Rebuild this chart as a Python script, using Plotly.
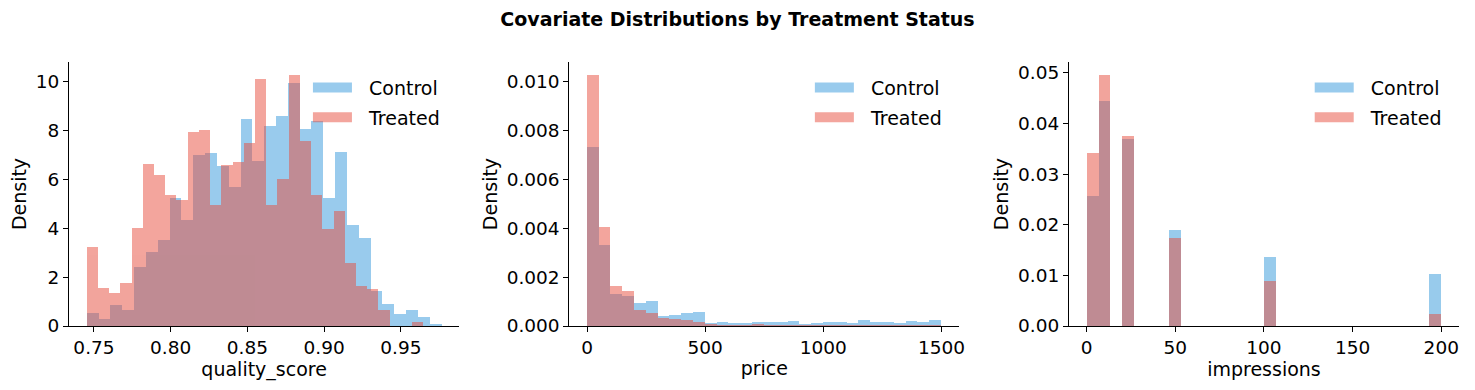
import plotly.graph_objects as go

# ---------------- data ----------------
series_names = ["Control", "Treated"]
series_colors = ["#3498db", "#e74c3c"]

# quality_score histogram (density), 30 bins each
qs_ctrl_range = (0.7453, 0.9765)
qs_trt_range = (0.7453, 0.9646)
qs_ctrl_density = [0.53, 0.29, 0.86, 0.66, 2.42, 3.04, 3.53, 5.25, 4.35, 7.02,
                   7.10, 6.57, 5.70, 8.50, 6.77, 8.21, 8.62, 9.97, 8.08, 8.41,
                   5.25, 7.14, 4.14, 3.61, 1.45, 0.90, 0.49, 0.66, 0.37, 0.08]
qs_trt_density = [3.24, 1.56, 1.35, 1.76, 4.02, 6.65, 6.20, 5.38, 5.17, 7.96,
                  8.04, 4.97, 6.60, 6.73, 7.51, 10.10, 4.97, 6.03, 10.30, 7.59,
                  5.38, 3.98, 4.72, 2.59, 1.64, 1.52, 0.66, 0.00, 0.00, 0.16]

# price histogram (density), 30 bins each
price_ctrl_range = (0, 1500)
price_trt_range = (0, 1500)
price_ctrl_density = [0.00735, 0.00332, 0.00131, 0.00123, 0.00094, 0.00103, 0.00041, 0.00045, 0.00053, 0.00057,
                      0.00012, 0.00016, 0.00012, 0.00012, 0.00016, 0.00016, 0.00016, 0.00020, 0.00008, 0.00012,
                      0.00016, 0.00016, 0.00012, 0.00025, 0.00016, 0.00016, 0.00012, 0.00020, 0.00016, 0.00025]
price_trt_density = [0.01030, 0.00406, 0.00164, 0.00144, 0.00066, 0.00053, 0.00033, 0.00029, 0.00025, 0.00016,
                     0.00005, 0.00003, 0.00003, 0.00004, 0.00008, 0.00004, 0.00004, 0.00004, 0.00003, 0.00003,
                     0.00004, 0.00004, 0.00003, 0.00004, 0.00004, 0.00003, 0.00004, 0.00004, 0.00003, 0.00004]

# impressions histogram (density), 30 bins each
imp_ctrl_range = (0, 200)
imp_trt_range = (0, 200)
imp_ctrl_density = [0.02573, 0.04453, 0, 0.03701, 0, 0, 0, 0.01900, 0, 0,
                    0, 0, 0, 0, 0, 0.01365, 0, 0, 0, 0,
                    0, 0, 0, 0, 0, 0, 0, 0, 0, 0.01029]
imp_trt_density = [0.03424, 0.04967, 0, 0.03760, 0, 0, 0, 0.01741, 0, 0,
                   0, 0, 0, 0, 0, 0.00890, 0, 0, 0, 0,
                   0, 0, 0, 0, 0, 0, 0, 0, 0, 0.00237]

x_labels = ["quality_score", "price", "impressions"]
y_label = "Density"
title_text = "Covariate Distributions by Treatment Status"

x_tickvals = [[0.75, 0.80, 0.85, 0.90, 0.95], [0, 500, 1000, 1500], [0, 50, 100, 150, 200]]
y_tickvals = [[0, 2, 4, 6, 8, 10],
              [0, 0.002, 0.004, 0.006, 0.008, 0.010],
              [0, 0.01, 0.02, 0.03, 0.04, 0.05]]
x_fmt = [".2f", "d", "d"]
y_fmt = ["d", ".3f", ".2f"]

panels = [
    (qs_ctrl_range, qs_ctrl_density, qs_trt_range, qs_trt_density),
    (price_ctrl_range, price_ctrl_density, price_trt_range, price_trt_density),
    (imp_ctrl_range, imp_ctrl_density, imp_trt_range, imp_trt_density),
]

# ---------------- figure ----------------
FONT = "DejaVu Sans"
NBSP = "\u00a0"
fig = go.Figure()

x_domains = [[0.0, 0.2808], [0.3600, 0.6404], [0.7194, 1.0]]
legend_x = [0.1719, 0.5330, 0.8926]


def bins(rng, n):
    w = (rng[1] - rng[0]) / n
    return [rng[0] + w * (i + 0.5) for i in range(n)], w


for p, (cr, cd, tr, td) in enumerate(panels):
    ax = "" if p == 0 else str(p + 1)
    leg = "legend" if p == 0 else "legend" + str(p + 1)
    for name, color, rng, dens in [(series_names[0], series_colors[0], cr, cd),
                                   (series_names[1], series_colors[1], tr, td)]:
        xs, w = bins(rng, len(dens))
        fig.add_trace(go.Bar(
            x=xs, y=dens, width=w, name=name,
            marker=dict(color=color, line=dict(width=0)), opacity=0.5,
            xaxis="x" + ax, yaxis="y" + ax, showlegend=False,
            legendgroup=name + ax,
        ))
    for name, color in zip(series_names, series_colors):
        rgba = "rgba(%d,%d,%d,0.5)" % tuple(int(color[i:i + 2], 16) for i in (1, 3, 5))
        fig.add_trace(go.Scatter(
            x=[None], y=[None], mode="lines", name=NBSP * 2 + name,
            line=dict(color=rgba, width=13),
            xaxis="x" + ax, yaxis="y" + ax, legend=leg, showlegend=True,
            legendgroup=name + ax,
        ))

    all_x = []
    for rng in (cr, tr):
        all_x += list(rng)
    lo, hi = min(all_x), max(all_x)
    pad = (hi - lo) * 0.05
    ymax = max(max(cd), max(td)) * 1.05

    axis_common = dict(showline=True, linecolor="black", linewidth=1.1, ticks="outside",
                       ticklen=5, tickwidth=1.1, tickcolor="black", showgrid=False,
                       zeroline=False, mirror=False,
                       tickfont=dict(family=FONT, size=18.5, color="black"))
    fig.layout["xaxis" + ax] = dict(
        axis_common, domain=x_domains[p], range=[lo - pad, hi + pad],
        tickvals=x_tickvals[p], tickformat=x_fmt[p], anchor="y" + ax,
        title=dict(text=x_labels[p], font=dict(family=FONT, size=19, color="black"), standoff=4),
    )
    fig.layout["yaxis" + ax] = dict(
        axis_common, domain=[0, 1], range=[0, ymax],
        tickvals=y_tickvals[p], tickformat=y_fmt[p], anchor="x" + ax,
        title=dict(text=y_label, font=dict(family=FONT, size=19, color="black"), standoff=4),
    )
    fig.layout[leg] = dict(
        x=legend_x[p], y=0.975, xanchor="left", yanchor="top",
        bgcolor="rgba(0,0,0,0)", borderwidth=0, itemwidth=39,
        font=dict(family=FONT, size=19, color="black"),
        tracegroupgap=2,
    )

fig.update_layout(
    width=1467, height=382,
    margin=dict(l=61, r=10, t=54, b=64),
    barmode="overlay",
    bargap=0,
    plot_bgcolor="white", paper_bgcolor="white",
    title=dict(text="<b>" + title_text + "</b>", x=(737.5 - 8) / 1467, xanchor="center",
               y=1 - 11 / 382, yanchor="middle", yref="container",
               font=dict(family=FONT, size=19, color="black")),
)

fig.write_html("out.html")
